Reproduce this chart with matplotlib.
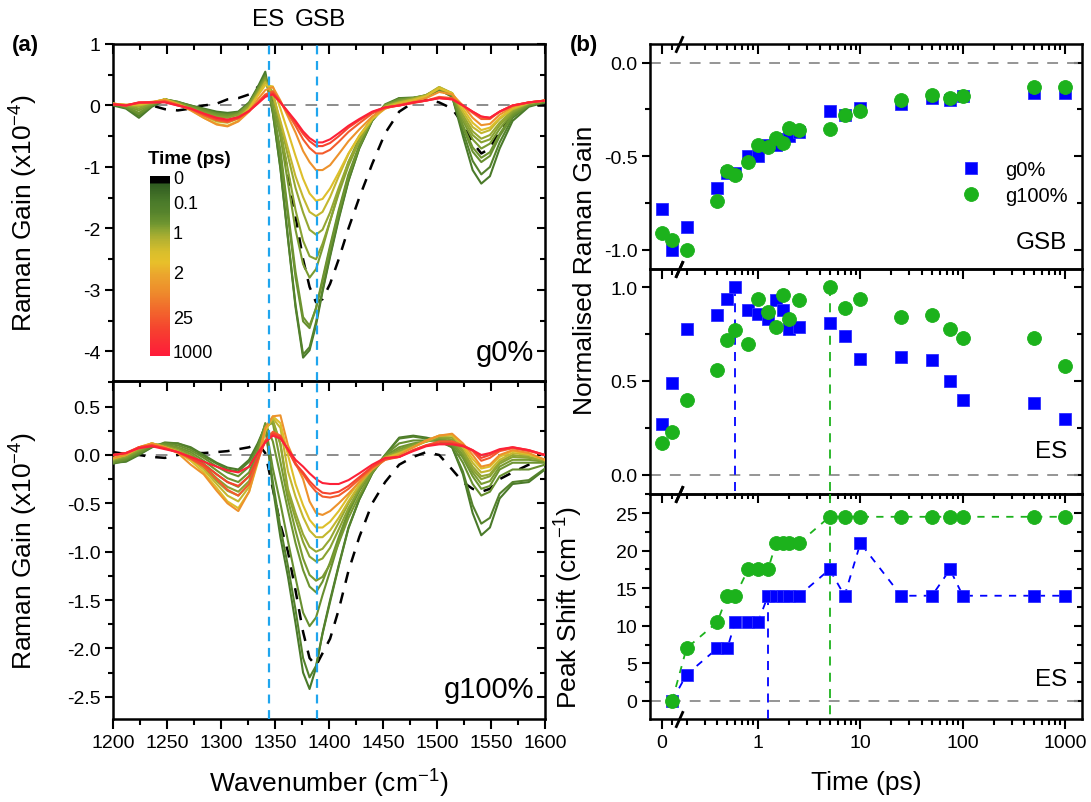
import numpy as np
import matplotlib
matplotlib.use("Agg")
import matplotlib.pyplot as plt
import matplotlib.transforms as mtransforms
from matplotlib.colors import LinearSegmentedColormap, Normalize
from matplotlib.cm import ScalarMappable
from matplotlib.ticker import FixedLocator, MultipleLocator, FormatStrFormatter, FuncFormatter, NullFormatter

plt.rcParams['font.family'] = ['Liberation Sans', 'DejaVu Sans']
plt.rcParams['axes.unicode_minus'] = False
plt.rcParams['mathtext.fontset'] = 'custom'
plt.rcParams['mathtext.rm'] = 'Liberation Sans'
plt.rcParams['mathtext.it'] = 'Liberation Sans:italic'
plt.rcParams['mathtext.bf'] = 'Liberation Sans:bold'

# ---------------- data: panel (a) spectra ----------------
wn = [1200, 1212, 1224, 1236, 1248, 1260, 1272, 1284, 1296, 1306, 1316, 1326, 1334, 1341,
      1348, 1355, 1362, 1369, 1376, 1382, 1388, 1394, 1401, 1409, 1418, 1428, 1440, 1452,
      1465, 1478, 1490, 1502, 1514, 1524, 1533, 1541, 1549, 1558, 1570, 1585, 1600]

spec_t = [0.1, 0.2, 0.4, 0.5, 0.6, 0.8, 1.0, 1.25, 1.5, 5, 25, 100, 1000]

g0_1 = [0.0, -0.05, -0.2, -0.02, 0.08, 0.05, 0.0, -0.05, -0.1, -0.12, -0.1, 0.05, 0.3, 0.55, -0.12, -1.03, -2.17, -3.28, -4.10, -3.98, -3.57, -3.03, -2.46, -1.85, -1.23, -0.70, -0.25, 0.0, 0.12, 0.12, 0.15, 0.25, 0.15, -0.5, -1.05, -1.27, -1.15, -0.7, -0.25, -0.02, 0.05]
g0_2 = [0.02, -0.04, -0.17, 0.0, 0.1, 0.06, 0.0, -0.06, -0.12, -0.14, -0.11, 0.04, 0.28, 0.5, -0.12, -1.01, -2.15, -3.24, -4.05, -3.93, -3.52, -3.0, -2.43, -1.82, -1.22, -0.69, -0.24, 0.02, 0.12, 0.13, 0.16, 0.26, 0.14, -0.42, -0.9, -1.12, -1.0, -0.6, -0.2, 0.0, 0.06]
g0_3 = [0.02, -0.03, -0.14, 0.0, 0.1, 0.06, -0.01, -0.07, -0.13, -0.15, -0.12, 0.03, 0.27, 0.48, -0.07, -0.80, -1.81, -2.79, -3.51, -3.62, -3.29, -2.82, -2.28, -1.70, -1.12, -0.65, -0.22, 0.0, 0.1, 0.12, 0.15, 0.27, 0.16, -0.35, -0.75, -0.92, -0.82, -0.5, -0.17, 0.0, 0.06]
g0_4 = [0.03, -0.02, -0.12, 0.01, 0.1, 0.05, -0.02, -0.08, -0.14, -0.16, -0.13, 0.02, 0.25, 0.45, -0.05, -0.72, -1.72, -2.70, -3.44, -3.58, -3.30, -2.86, -2.32, -1.74, -1.15, -0.67, -0.23, 0.01, 0.1, 0.12, 0.16, 0.27, 0.17, -0.32, -0.68, -0.85, -0.76, -0.46, -0.15, 0.01, 0.06]
g0_5 = [0.03, -0.01, -0.08, 0.02, 0.1, 0.05, -0.03, -0.1, -0.16, -0.18, -0.14, 0.02, 0.24, 0.45, 0.0, -0.50, -1.26, -2.02, -2.58, -2.80, -2.66, -2.32, -1.88, -1.40, -0.92, -0.53, -0.20, 0.0, 0.08, 0.12, 0.17, 0.28, 0.18, -0.25, -0.55, -0.70, -0.62, -0.38, -0.12, 0.02, 0.07]
g0_6 = [0.03, 0.0, -0.05, 0.03, 0.1, 0.04, -0.04, -0.12, -0.18, -0.2, -0.15, 0.0, 0.22, 0.42, 0.12, -0.40, -1.05, -1.70, -2.20, -2.45, -2.50, -2.25, -1.88, -1.43, -0.98, -0.58, -0.22, 0.0, 0.07, 0.12, 0.17, 0.28, 0.2, -0.2, -0.48, -0.6, -0.55, -0.32, -0.1, 0.03, 0.08]
g0_7 = [0.03, 0.0, -0.02, 0.04, 0.1, 0.03, -0.05, -0.15, -0.22, -0.24, -0.18, -0.02, 0.2, 0.40, 0.21, -0.29, -0.82, -1.34, -1.74, -2.02, -2.10, -2.02, -1.74, -1.34, -0.92, -0.57, -0.23, -0.02, 0.06, 0.1, 0.17, 0.3, 0.2, -0.15, -0.42, -0.54, -0.48, -0.28, -0.08, 0.04, 0.08]
g0_8 = [0.03, 0.01, 0.0, 0.05, 0.1, 0.03, -0.06, -0.17, -0.26, -0.28, -0.21, -0.04, 0.18, 0.38, 0.18, -0.25, -0.70, -1.15, -1.49, -1.73, -1.80, -1.73, -1.49, -1.15, -0.79, -0.49, -0.20, -0.02, 0.05, 0.1, 0.16, 0.3, 0.2, -0.1, -0.35, -0.45, -0.4, -0.22, -0.06, 0.04, 0.08]
g0_9 = [0.03, 0.01, 0.02, 0.05, 0.1, 0.02, -0.07, -0.2, -0.3, -0.33, -0.25, -0.06, 0.16, 0.33, 0.31, -0.05, -0.43, -0.82, -1.19, -1.43, -1.55, -1.52, -1.35, -1.09, -0.78, -0.50, -0.22, -0.05, 0.03, 0.08, 0.15, 0.28, 0.2, -0.05, -0.28, -0.40, -0.36, -0.2, -0.04, 0.05, 0.08]
g0_10 = [0.03, 0.01, 0.04, 0.06, 0.09, 0.02, -0.08, -0.2, -0.31, -0.34, -0.26, -0.1, 0.1, 0.25, 0.30, 0.08, -0.18, -0.44, -0.74, -0.92, -1.05, -1.05, -0.97, -0.79, -0.58, -0.39, -0.18, -0.05, 0.02, 0.06, 0.12, 0.22, 0.18, 0.0, -0.2, -0.32, -0.3, -0.15, -0.02, 0.05, 0.08]
g0_11 = [0.02, 0.0, 0.04, 0.05, 0.07, 0.01, -0.06, -0.16, -0.24, -0.27, -0.21, -0.09, 0.05, 0.18, 0.23, 0.06, -0.13, -0.33, -0.55, -0.69, -0.78, -0.78, -0.72, -0.59, -0.43, -0.29, -0.13, -0.04, 0.0, 0.05, 0.08, 0.14, 0.12, 0.0, -0.12, -0.22, -0.22, -0.1, 0.0, 0.05, 0.08]
g0_12 = [0.02, 0.0, 0.05, 0.05, 0.06, 0.0, -0.05, -0.14, -0.22, -0.25, -0.2, -0.09, 0.04, 0.16, 0.2, 0.05, -0.11, -0.28, -0.46, -0.58, -0.66, -0.66, -0.61, -0.50, -0.36, -0.24, -0.11, -0.03, 0.0, 0.04, 0.08, 0.12, 0.1, 0.0, -0.1, -0.18, -0.2, -0.1, 0.0, 0.05, 0.08]
g0_13 = [0.02, 0.0, 0.05, 0.05, 0.05, 0.0, -0.05, -0.13, -0.2, -0.23, -0.19, -0.09, 0.03, 0.14, 0.18, 0.05, -0.1, -0.25, -0.42, -0.53, -0.6, -0.6, -0.55, -0.45, -0.33, -0.22, -0.1, -0.03, 0.0, 0.05, 0.08, 0.12, 0.1, 0.0, -0.1, -0.18, -0.2, -0.1, 0.0, 0.05, 0.08]
g0_ref = [0.0, 0.0, 0.03, 0.0, -0.06, -0.08, -0.05, 0.0, 0.03, 0.1, 0.12, 0.18, 0.3, 0.38, 0.1, -0.45, -1.1, -1.8, -2.5, -2.95, -3.2, -3.15, -2.9, -2.5, -2.0, -1.5, -0.95, -0.45, -0.1, 0.05, 0.1, 0.05, -0.05, -0.3, -0.6, -0.78, -0.7, -0.4, -0.15, 0.0, 0.0]

g100_1 = [-0.08, -0.07, 0.0, 0.08, 0.12, 0.12, 0.08, 0.0, -0.08, -0.13, -0.15, -0.05, 0.12, 0.30, -0.34, -0.85, -1.26, -1.74, -2.25, -2.42, -2.20, -1.84, -1.50, -1.14, -0.75, -0.46, -0.19, 0.0, 0.18, 0.2, 0.18, 0.15, 0.08, -0.2, -0.6, -0.83, -0.75, -0.45, -0.3, -0.28, -0.15]
g100_2 = [-0.09, -0.06, 0.01, 0.08, 0.13, 0.12, 0.07, -0.01, -0.09, -0.15, -0.17, -0.07, 0.1, 0.30, -0.28, -0.75, -1.15, -1.6, -2.1, -2.30, -2.18, -1.85, -1.52, -1.15, -0.76, -0.46, -0.19, 0.0, 0.17, 0.19, 0.17, 0.14, 0.08, -0.17, -0.52, -0.71, -0.65, -0.4, -0.28, -0.26, -0.14]
g100_3 = [-0.08, -0.05, 0.02, 0.09, 0.12, 0.1, 0.05, -0.03, -0.12, -0.18, -0.22, -0.12, 0.08, 0.32, -0.14, -0.50, -0.89, -1.27, -1.63, -1.77, -1.68, -1.45, -1.20, -0.90, -0.60, -0.37, -0.16, 0.0, 0.12, 0.15, 0.15, 0.15, 0.1, -0.08, -0.3, -0.42, -0.38, -0.22, -0.15, -0.15, -0.1]
g100_4 = [-0.07, -0.04, 0.03, 0.1, 0.11, 0.08, 0.03, -0.06, -0.16, -0.24, -0.28, -0.18, 0.04, 0.33, 0.14, -0.21, -0.57, -0.91, -1.19, -1.36, -1.42, -1.31, -1.11, -0.85, -0.58, -0.37, -0.16, -0.01, 0.08, 0.12, 0.14, 0.16, 0.12, -0.03, -0.22, -0.35, -0.32, -0.15, -0.08, -0.08, -0.08]
g100_5 = [-0.06, -0.03, 0.04, 0.11, 0.1, 0.07, 0.01, -0.09, -0.2, -0.28, -0.33, -0.22, 0.0, 0.30, 0.33, -0.07, -0.46, -0.78, -1.07, -1.24, -1.30, -1.26, -1.13, -0.91, -0.65, -0.42, -0.18, -0.03, 0.06, 0.11, 0.14, 0.17, 0.14, 0.0, -0.18, -0.30, -0.27, -0.12, -0.05, -0.05, -0.07]
g100_6 = [-0.05, -0.02, 0.05, 0.11, 0.09, 0.05, -0.01, -0.11, -0.24, -0.33, -0.38, -0.27, -0.03, 0.28, 0.35, 0.11, -0.39, -0.66, -0.90, -1.05, -1.10, -1.07, -0.96, -0.77, -0.55, -0.35, -0.15, -0.02, 0.04, 0.1, 0.14, 0.18, 0.16, 0.03, -0.15, -0.25, -0.22, -0.09, -0.02, -0.03, -0.06]
g100_7 = [-0.05, -0.01, 0.06, 0.12, 0.09, 0.05, -0.02, -0.13, -0.27, -0.37, -0.42, -0.3, -0.05, 0.27, 0.36, 0.12, -0.35, -0.60, -0.82, -0.95, -1.0, -0.97, -0.87, -0.7, -0.5, -0.32, -0.14, -0.02, 0.03, 0.09, 0.14, 0.19, 0.18, 0.05, -0.12, -0.22, -0.2, -0.07, 0.0, -0.02, -0.06]
g100_8 = [-0.04, 0.0, 0.07, 0.12, 0.08, 0.04, -0.04, -0.15, -0.3, -0.42, -0.48, -0.33, -0.06, 0.25, 0.38, 0.28, -0.17, -0.43, -0.64, -0.78, -0.85, -0.85, -0.78, -0.65, -0.48, -0.31, -0.14, -0.03, 0.02, 0.08, 0.14, 0.2, 0.2, 0.08, -0.08, -0.18, -0.16, -0.05, 0.02, 0.0, -0.05]
g100_9 = [-0.03, 0.0, 0.08, 0.12, 0.08, 0.03, -0.06, -0.18, -0.34, -0.48, -0.55, -0.38, -0.08, 0.25, 0.40, 0.33, 0.0, -0.3, -0.52, -0.67, -0.75, -0.75, -0.69, -0.58, -0.43, -0.28, -0.13, -0.03, 0.01, 0.08, 0.15, 0.2, 0.21, 0.1, -0.04, -0.14, -0.12, -0.02, 0.04, 0.01, -0.05]
g100_10 = [-0.03, 0.0, 0.08, 0.12, 0.08, 0.02, -0.1, -0.2, -0.37, -0.5, -0.58, -0.38, -0.05, 0.28, 0.40, 0.41, 0.1, -0.08, -0.25, -0.48, -0.6, -0.62, -0.58, -0.5, -0.4, -0.28, -0.15, -0.05, 0.0, 0.08, 0.15, 0.2, 0.22, 0.12, 0.0, -0.12, -0.1, 0.0, 0.05, 0.02, -0.05]
g100_11 = [0.0, 0.02, 0.08, 0.1, 0.07, 0.03, -0.04, -0.12, -0.25, -0.36, -0.42, -0.3, -0.06, 0.15, 0.24, 0.2, 0.05, -0.1, -0.2, -0.3, -0.38, -0.43, -0.44, -0.42, -0.35, -0.25, -0.13, -0.05, -0.02, 0.05, 0.1, 0.14, 0.14, 0.1, 0.04, -0.06, -0.03, 0.04, 0.07, 0.04, 0.0]
g100_12 = [0.0, 0.02, 0.08, 0.1, 0.07, 0.03, -0.03, -0.1, -0.2, -0.28, -0.32, -0.22, -0.03, 0.14, 0.22, 0.19, 0.05, -0.09, -0.18, -0.27, -0.34, -0.39, -0.40, -0.38, -0.32, -0.23, -0.12, -0.04, -0.02, 0.05, 0.1, 0.12, 0.12, 0.1, 0.05, -0.03, 0.0, 0.05, 0.08, 0.05, 0.0]
g100_13 = [0.0, 0.02, 0.07, 0.09, 0.06, 0.03, -0.02, -0.07, -0.12, -0.16, -0.18, -0.12, 0.02, 0.13, 0.2, 0.17, 0.06, -0.05, -0.12, -0.19, -0.25, -0.29, -0.30, -0.30, -0.26, -0.19, -0.1, -0.03, -0.02, 0.04, 0.09, 0.11, 0.11, 0.09, 0.05, 0.0, 0.02, 0.06, 0.08, 0.05, 0.0]
g100_ref = [0.03, 0.01, 0.0, -0.02, -0.03, 0.0, 0.02, 0.02, 0.03, 0.04, 0.06, 0.08, 0.12, 0.02, -0.35, -0.72, -1.0, -1.4, -1.83, -2.1, -2.18, -2.05, -1.9, -1.6, -1.2, -0.85, -0.5, -0.28, -0.1, -0.02, 0.03, 0.0, -0.15, -0.28, -0.35, -0.38, -0.35, -0.25, -0.18, -0.1, -0.05]

es_band = 1344
gsb_band = 1389

# colour bar labels (time, ps)
cb_times = [0, 0.1, 1, 2, 25, 1000]
cb_labels = ['0', '0.1', '1', '2', '25', '1000']

# ---------------- data: panel (b) kinetics ----------------
t_ps = [0, 0.1, 0.2, 0.4, 0.5, 0.6, 0.8, 1, 1.25, 1.5, 1.75, 2, 2.5, 5, 7, 10, 25, 50, 75, 100, 500, 1000]
gsb_g0 = [-0.78, -1.0, -0.88, -0.67, -0.59, -0.59, -0.50, -0.50, -0.44, -0.44, -0.41, -0.39, -0.37, -0.26, -0.28, -0.24, -0.22, -0.19, -0.20, -0.18, -0.16, -0.16]
gsb_g100 = [-0.91, -0.95, -1.0, -0.74, -0.58, -0.60, -0.53, -0.44, -0.45, -0.40, -0.43, -0.35, -0.36, -0.355, -0.28, -0.26, -0.20, -0.17, -0.19, -0.18, -0.13, -0.13]
es_g0 = [0.27, 0.49, 0.78, 0.85, 0.94, 1.0, 0.88, 0.855, 0.83, 0.93, 0.88, 0.78, 0.79, 0.81, 0.74, 0.62, 0.63, 0.61, 0.50, 0.40, 0.385, 0.30]
es_g100 = [0.17, 0.23, 0.40, 0.56, 0.72, 0.77, 0.70, 0.94, 0.87, 0.79, 0.96, 0.83, 0.93, 1.0, 0.89, 0.94, 0.84, 0.85, 0.78, 0.73, 0.73, 0.58]
shift_t = [0.1, 0.2, 0.4, 0.5, 0.6, 0.8, 1, 1.25, 1.5, 1.75, 2, 2.5, 5, 7, 10, 25, 50, 75, 100, 500, 1000]
shift_g0 = [0, 3.5, 7, 7, 10.5, 10.5, 10.5, 14, 14, 14, 14, 14, 17.5, 14, 21, 14, 14, 17.5, 14, 14, 14]
shift_g100 = [0, 7, 10.5, 14, 14, 17.5, 17.5, 17.5, 21, 21, 21, 21, 24.5, 24.5, 24.5, 24.5, 24.5, 24.5, 24.5, 24.5, 24.5]
shift_onset_g0 = 1.25
shift_onset_g100 = 5

g0_spectra = [g0_1, g0_2, g0_3, g0_4, g0_5, g0_6, g0_7, g0_8, g0_9, g0_10, g0_11, g0_12, g0_13]
g100_spectra = [g100_1, g100_2, g100_3, g100_4, g100_5, g100_6, g100_7, g100_8, g100_9, g100_10, g100_11, g100_12, g100_13]
for s in g0_spectra + g100_spectra + [g0_ref, g100_ref]:
    assert len(s) == len(wn), len(s)

# ---------------- style ----------------
W, H = 1091, 803
BLUE = '#0000ff'
GREEN = '#1cb21c'
LBLUE = '#1fa5ee'
GREY = '#8c8c8c'
TICK_FS = 14
LAB_FS = 19

cb_pos = [0.005, 0.144, 0.311, 0.528, 0.778, 0.972]
cmap = LinearSegmentedColormap.from_list('tcmap', [
    (0.0, '#000000'), (0.036, '#000000'), (0.042, '#2f5a20'), (0.14, '#4a7a2a'),
    (0.20, '#56832c'), (0.26, '#6d9430'), (0.30, '#8ea432'), (0.35, '#b3b131'),
    (0.42, '#d8be2c'), (0.48, '#e8c02a'), (0.55, '#eba52d'), (0.65, '#ee8a2c'),
    (0.75, '#f2662c'), (0.86, '#f6402f'), (1.0, '#ff1a3a')])


def tfrac(t):
    return float(np.interp(np.log10(t), np.log10(cb_times[1:]), cb_pos[1:]))


def fy(py):
    return 1 - py / H


fig = plt.figure(figsize=(W / 100, H / 100), dpi=100)

a1 = fig.add_axes([113 / W, fy(382), 432 / W, 337 / H])
a2 = fig.add_axes([113 / W, fy(720), 432 / W, 338 / H])
b1 = fig.add_axes([650 / W, fy(269.5), 432 / W, 224.5 / H])
b2 = fig.add_axes([650 / W, fy(494.5), 432 / W, 225 / H])
b3 = fig.add_axes([650 / W, fy(720), 432 / W, 225.5 / H])

# ---- function scale for broken time axis ----
TS = 0.17
OFF = np.log10(TS) - TS


def fwd(t):
    t = np.asarray(t, dtype=float)
    lg = np.log10(np.where(t > TS, t, TS))
    return np.where(t < TS, t + OFF, lg)


def inv(u):
    u = np.asarray(u, dtype=float)
    return np.where(u < np.log10(TS), u - OFF, np.power(10.0, np.minimum(u, 300)))


XL = (-0.116, 1460)
x_major = [0, 1, 10, 100, 1000]
x_minor = [0.1] + [k * 10.0 ** e for e in range(-1, 3) for k in range(2, 10)]


def frame(ax, xlim, ylim, xmaj, xmin, ymaj, ymin, yfmt, bottom_labels, fscale=False):
    for s in ax.spines.values():
        s.set_linewidth(1.8)
    if fscale:
        ax.set_xscale('function', functions=(fwd, inv))
    ax.set_xlim(*xlim)
    ax.set_ylim(*ylim)
    ax.xaxis.set_major_locator(xmaj)
    ax.xaxis.set_minor_locator(xmin)
    ax.yaxis.set_major_locator(ymaj)
    ax.yaxis.set_minor_locator(ymin)
    ax.yaxis.set_major_formatter(yfmt)
    ax.yaxis.set_minor_formatter(NullFormatter())
    ax.tick_params(axis='y', which='both', direction='out', left=True, right=False,
                   labelsize=TICK_FS, width=1.5, pad=3)
    ax.tick_params(axis='y', which='major', length=6)
    ax.tick_params(axis='y', which='minor', length=3.5)
    # right-side inward ticks
    ar = ax.twinx()
    ar.set_ylim(*ylim)
    ar.yaxis.set_major_locator(ymaj)
    ar.yaxis.set_minor_locator(ymin)
    ar.tick_params(axis='y', which='both', direction='in', right=True, labelright=False, width=1.5)
    ar.tick_params(axis='y', which='major', length=6)
    ar.tick_params(axis='y', which='minor', length=3.5)
    for s in ar.spines.values():
        s.set_visible(False)
    # top inward ticks
    at = ax.twiny()
    if fscale:
        at.set_xscale('function', functions=(fwd, inv))
    at.set_xlim(*xlim)
    at.xaxis.set_major_locator(xmaj)
    at.xaxis.set_minor_locator(xmin)
    at.tick_params(axis='x', which='both', direction='in', top=True, labeltop=False, width=1.5)
    at.tick_params(axis='x', which='major', length=7)
    at.tick_params(axis='x', which='minor', length=4)
    for s in at.spines.values():
        s.set_visible(False)
    if bottom_labels:
        ax.tick_params(axis='x', which='both', direction='out', bottom=True, top=False,
                       labelsize=TICK_FS, width=1.5, pad=4)
        ax.tick_params(axis='x', which='major', length=7)
        ax.tick_params(axis='x', which='minor', length=4)
    else:
        ax.tick_params(axis='x', which='both', bottom=False, top=False, labelbottom=False)
    ax.set_zorder(ar.get_zorder() + 1)
    ax.patch.set_visible(False)


# ---------------- panel (a) ----------------
for ax, spectra, ref, ylim, ymaj, ymin, fmt in [
        (a1, g0_spectra, g0_ref, (-4.48, 1.0), MultipleLocator(1), MultipleLocator(0.5), FormatStrFormatter('%d')),
        (a2, g100_spectra, g100_ref, (-2.73, 0.765), MultipleLocator(0.5), MultipleLocator(0.25), FormatStrFormatter('%.1f'))]:
    frame(ax, (1200, 1600), ylim, MultipleLocator(50), MultipleLocator(25), ymaj, ymin, fmt,
          bottom_labels=(ax is a2))
    ax.axhline(0, color=GREY, lw=1.4, ls=(0, (6, 5)), zorder=1)
    ax.plot(wn, ref, color='k', lw=1.8, ls=(0, (4.5, 4)), zorder=2)
    for i, (t, y) in enumerate(zip(spec_t, spectra)):
        ax.plot(wn, y, color=cmap(tfrac(t)), lw=1.5, zorder=3 + i * 0.01, solid_joinstyle='round')
    for xb in (es_band, gsb_band):
        ax.axvline(xb, color=LBLUE, lw=1.6, ls=(0, (4, 3)), zorder=5)
    ax.set_ylabel(r'Raman Gain (x10$^{-4}$)', fontsize=LAB_FS)
    ax.yaxis.set_label_coords(-0.17, 0.5)

a2.set_xlabel(r'Wavenumber (cm$^{-1}$)', fontsize=LAB_FS)
a2.xaxis.set_label_coords(0.5, -0.14)
a1.text(0.975, 0.085, 'g0%', transform=a1.transAxes, ha='right', va='center', fontsize=21)
a2.text(0.975, 0.09, 'g100%', transform=a2.transAxes, ha='right', va='center', fontsize=21)

# ES / GSB labels above
blend_a1 = mtransforms.blended_transform_factory(a1.transData, a1.transAxes)
a1.text(es_band, 1.075, 'ES', transform=blend_a1, ha='center', va='center', fontsize=17.5)
a1.text(gsb_band + 3, 1.075, 'GSB', transform=blend_a1, ha='center', va='center', fontsize=17.5)

# colour bar
cax = a1.inset_axes([(150 - 113) / 432, (382 - 357) / 337, 20 / 432, 180 / 337])
sm = ScalarMappable(norm=Normalize(0, 1), cmap=cmap)
cb = fig.colorbar(sm, cax=cax)
cb.outline.set_visible(False)
cax.invert_yaxis()
cb.set_ticks(cb_pos)
cb.set_ticklabels(cb_labels)
cax.tick_params(length=0, labelsize=13, pad=2)
cax.text(-0.1, 1.05, 'Time (ps)', transform=cax.transAxes, ha='left', va='bottom',
         fontsize=13.5, fontweight='bold')

# ---------------- panel (b) ----------------
xmaj = FixedLocator(x_major)
xmin = FixedLocator(x_minor)
frame(b1, XL, (-1.1, 0.1), xmaj, xmin, MultipleLocator(0.5), MultipleLocator(0.25),
      FormatStrFormatter('%.1f'), False, fscale=True)
frame(b2, XL, (-0.1, 1.1), xmaj, xmin, MultipleLocator(0.5), MultipleLocator(0.25),
      FormatStrFormatter('%.1f'), False, fscale=True)
frame(b3, XL, (-2.4, 27.6), xmaj, xmin, MultipleLocator(5), MultipleLocator(2.5),
      FormatStrFormatter('%d'), True, fscale=True)
b3.xaxis.set_major_formatter(FuncFormatter(lambda v, p: '%g' % v))

for ax in (b1, b2, b3):
    ax.axhline(0, color=GREY, lw=1.3, ls=(0, (6, 5)), zorder=1)
    blend = mtransforms.blended_transform_factory(ax.transData, ax.transAxes)
    for yy in (0, 1):
        ax.plot([TS], [yy], marker=[(-0.45, -1), (0.45, 1)], ms=12, mew=2.0, color='k',
                transform=blend, clip_on=False, zorder=10)

MS_SQ = 9
MS_CI = 10
b1.plot(t_ps, gsb_g0, 's', color=BLUE, ms=MS_SQ, mec='#3030ff', mew=0.6, label='g0%', zorder=4)
b1.plot(t_ps, gsb_g100, 'o', color=GREEN, ms=MS_CI, mec=GREEN, mew=0.6, label='g100%', zorder=5)
b1.legend(loc='upper left', bbox_to_anchor=(0.672, 0.53), frameon=False, fontsize=14.5,
          handletextpad=0.7, labelspacing=0.35, borderpad=0, handlelength=2.0)
b1.text(0.965, 0.07, 'GSB', transform=b1.transAxes, ha='right', va='bottom', fontsize=17.5)

ylo2 = b2.get_ylim()[0]
i0 = int(np.argmax(es_g0))
i1 = int(np.argmax(es_g100))
b2.plot([t_ps[i0], t_ps[i0]], [es_g0[i0], ylo2], color=BLUE, lw=1.3, ls=(0, (5, 4)), zorder=3)
b2.plot([t_ps[i1], t_ps[i1]], [es_g100[i1], ylo2], color=GREEN, lw=1.3, ls=(0, (5, 4)), zorder=3)
b2.plot(t_ps, es_g0, 's', color=BLUE, ms=MS_SQ, mec='#3030ff', mew=0.6, zorder=4)
b2.plot(t_ps, es_g100, 'o', color=GREEN, ms=MS_CI, mec=GREEN, mew=0.6, zorder=5)
b2.text(0.965, 0.14, 'ES', transform=b2.transAxes, ha='right', va='bottom', fontsize=17.5)

ylo3, yhi3 = b3.get_ylim()
j0 = shift_t.index(shift_onset_g0)
b3.plot([shift_onset_g0, shift_onset_g0], [shift_g0[j0], ylo3], color=BLUE, lw=1.3, ls=(0, (5, 4)), zorder=3)
b3.plot([shift_onset_g100, shift_onset_g100], [yhi3, ylo3], color=GREEN, lw=1.3, ls=(0, (5, 4)), zorder=3)
b3.plot(shift_t, shift_g0, color=BLUE, lw=1.3, ls=(0, (4, 4)), zorder=3)
b3.plot(shift_t, shift_g100, color=GREEN, lw=1.3, ls=(0, (4, 4)), zorder=3)
b3.plot(shift_t, shift_g0, 's', color=BLUE, ms=MS_SQ, mec='#3030ff', mew=0.6, zorder=4)
b3.plot(shift_t, shift_g100, 'o', color=GREEN, ms=MS_CI, mec=GREEN, mew=0.6, zorder=5)
b3.text(0.965, 0.13, 'ES', transform=b3.transAxes, ha='right', va='bottom', fontsize=17.5)

b3.set_xlabel('Time (ps)', fontsize=LAB_FS)
b3.xaxis.set_label_coords(0.5, -0.225)
b3.set_ylabel(r'Peak Shift (cm$^{-1}$)', fontsize=LAB_FS)
b3.yaxis.set_label_coords(-0.15, 0.5)
fig.text(585 / W, fy(270), 'Normalised Raman Gain', rotation=90, ha='center', va='center',
         fontsize=LAB_FS)

fig.text(25 / W, fy(45), '(a)', ha='center', va='center', fontsize=16, fontweight='bold')
fig.text(584 / W, fy(45), '(b)', ha='center', va='center', fontsize=16, fontweight='bold')

fig.savefig('out.png', dpi=100)
